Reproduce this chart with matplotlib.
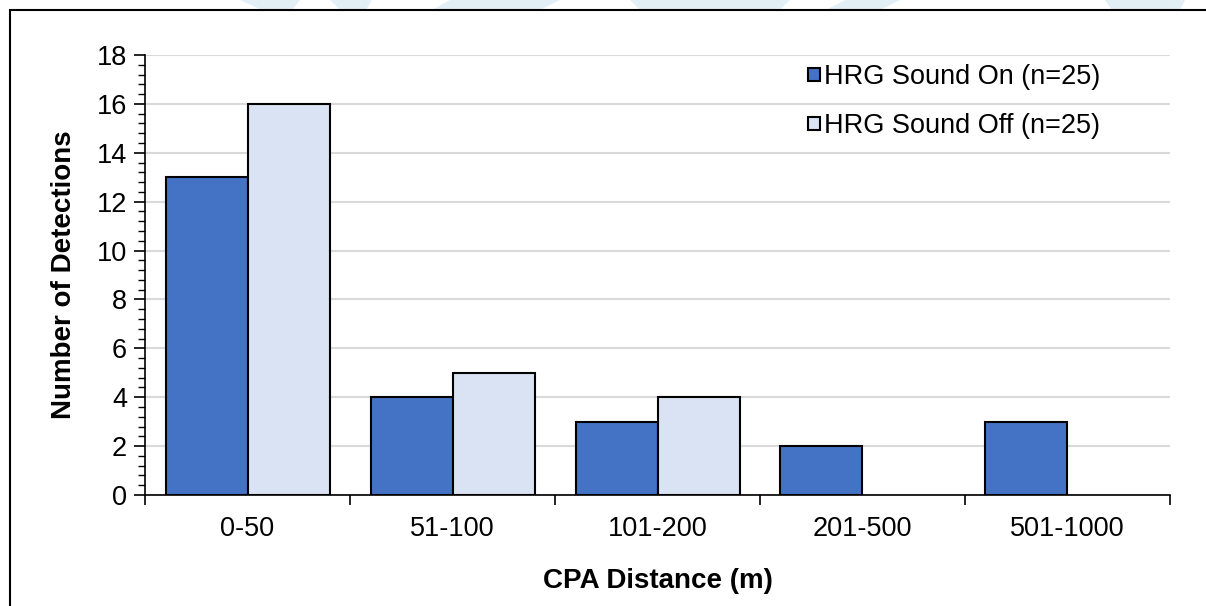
import numpy as np
import matplotlib.pyplot as plt
from matplotlib.patches import Rectangle, Polygon
from matplotlib.ticker import MultipleLocator, FixedLocator

plt.rcParams['font.family'] = ['Liberation Sans', 'DejaVu Sans']

categories = ["0-50", "51-100", "101-200", "201-500", "501-1000"]
sound_on = [13, 4, 3, 2, 3]
sound_off = [16, 5, 4, 0, 0]
labels = ["HRG Sound On (n=25)", "HRG Sound Off (n=25)"]

fig = plt.figure(figsize=(12.06, 6.06), dpi=100)
W, H = 1206, 606

# faint logo shapes peeking over the top edge
for pts in [[(240, 0), (300, 0), (292, 10), (262, 10)],
            [(330, 0), (372, 0), (366, 10), (340, 10)],
            [(450, 0), (560, 0), (540, 10), (432, 10)],
            [(630, 0), (790, 0), (780, 10), (640, 10)],
            [(845, 0), (900, 0), (880, 10), (826, 10)],
            [(1105, 0), (1185, 0), (1180, 10), (1112, 10)]]:
    fig.patches.append(Polygon([(x / W, 1 - y / H) for x, y in pts], closed=True,
                               transform=fig.transFigure, facecolor='#e2eff4',
                               edgecolor='none', zorder=0))

# outer frame
fig.patches.append(Rectangle((10 / W, -0.05), 1.2, 1 - 10 / H + 0.05,
                             transform=fig.transFigure, facecolor='none',
                             edgecolor='black', linewidth=1.5, zorder=1))

ax = fig.add_axes([145 / W, 111 / H, 1025 / W, 440 / H])
x = np.arange(len(categories))
w = 0.4
ax.bar(x - w / 2, sound_on, w, color='#4472C4', edgecolor='black',
       linewidth=[1.5 if v else 0 for v in sound_on], label=labels[0], zorder=3)
ax.bar(x + w / 2, sound_off, w, color='#DAE3F3', edgecolor='black',
       linewidth=[1.5 if v else 0 for v in sound_off], label=labels[1], zorder=3)

ax.set_xlim(-0.5, len(categories) - 0.5)
ax.set_ylim(0, 18)
ax.yaxis.set_major_locator(MultipleLocator(2))
ax.yaxis.set_minor_locator(MultipleLocator(0.4))
ax.set_xticks(x)
ax.set_xticklabels(categories)
ax.xaxis.set_minor_locator(FixedLocator(np.arange(-0.5, len(categories), 1)))
ax.tick_params(axis='x', which='major', length=0, pad=15, labelsize=19.5)
ax.tick_params(axis='x', which='minor', length=7, width=1.2, direction='out')
ax.tick_params(axis='y', which='major', length=8, width=1.2, direction='out',
               labelsize=19.5, pad=5)
ax.tick_params(axis='y', which='minor', length=5, width=1.0, direction='out')

ax.grid(axis='y', which='major', color='#D9D9D9', linewidth=1.5, zorder=0)
for s in ['top', 'right']:
    ax.spines[s].set_visible(False)
for s in ['left', 'bottom']:
    ax.spines[s].set_linewidth(1.2)
    ax.spines[s].set_zorder(4)

ax.set_ylabel("Number of Detections", fontsize=20, fontweight='bold', labelpad=14)
ax.set_xlabel("CPA Distance (m)", fontsize=20, fontweight='bold', labelpad=19)

ax.legend(loc='upper right', bbox_to_anchor=(0.956, 1.035), frameon=False, fontsize=19.5,
          handlelength=0.45, handleheight=0.36, handletextpad=0.15, labelspacing=0.85)

fig.savefig("out.png", dpi=100)
